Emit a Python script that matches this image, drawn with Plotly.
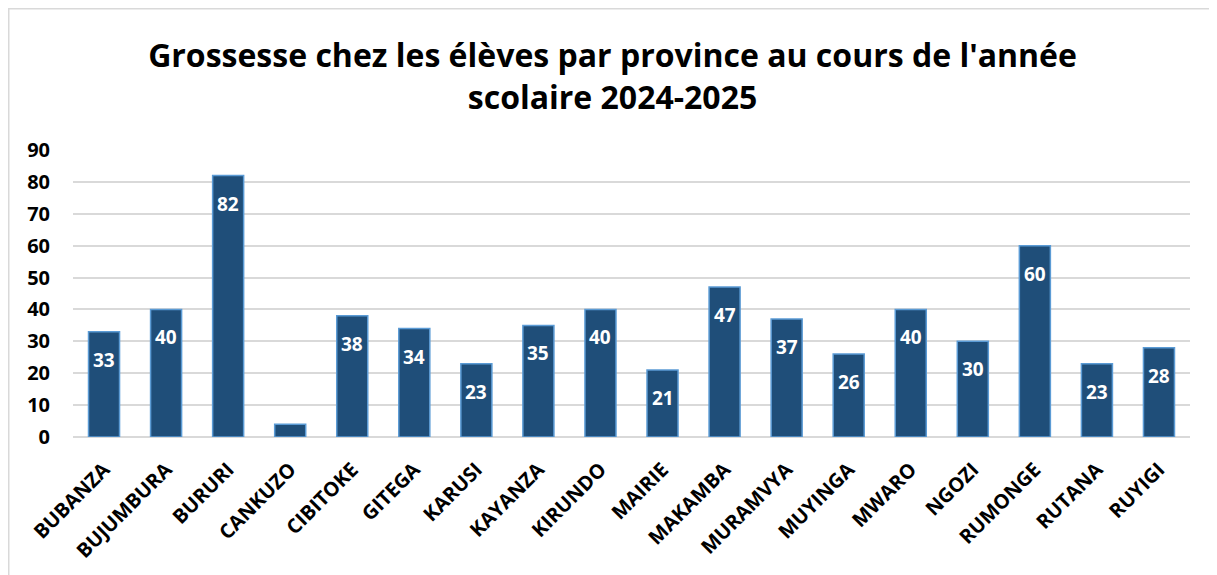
import plotly.graph_objects as go

provinces = ["BUBANZA", "BUJUMBURA", "BURURI", "CANKUZO", "CIBITOKE", "GITEGA", "KARUSI",
             "KAYANZA", "KIRUNDO", "MAIRIE", "MAKAMBA", "MURAMVYA", "MUYINGA", "MWARO",
             "NGOZI", "RUMONGE", "RUTANA", "RUYIGI"]
values = [33, 40, 82, 4, 38, 34, 23, 35, 40, 21, 47, 37, 26, 40, 30, 60, 23, 28]
y_ticks = [0, 10, 20, 30, 40, 50, 60, 70, 80, 90]

title_text = "Grossesse chez les élèves par province au cours de l'année<br>scolaire 2024-2025"

# page body has an 8px margin, so the figure is shifted by 8px
W, H = 1209, 567
L, R, T, B = 65, 27, 142, 138

fig = go.Figure()
fig.add_trace(go.Bar(
    x=provinces, y=values,
    marker=dict(color="#1F4E79", line=dict(color="#5B9BD5", width=1.5)),
    hoverinfo="x+y",
))

for p, v in zip(provinces, values):
    fig.add_annotation(
        x=p, y=v, text=str(v), showarrow=False, yshift=-28,
        font=dict(family="Open Sans", size=19, color="white", weight="bold"),
        xref="x", yref="y",
    )

pw = W - L - R
ph = H - T - B
fig.add_shape(type="rect", xref="paper", yref="paper",
              x0=(0.75 - L) / pw, x1=(W + 10 - L) / pw,
              y0=-(B + 10) / ph, y1=(H - B - 0.75) / ph,
              line=dict(color="#D9D9D9", width=1.5), fillcolor="rgba(0,0,0,0)", layer="below")

fig.update_layout(
    width=W, height=H,
    margin=dict(l=L, r=R, t=T, b=B),
    paper_bgcolor="white", plot_bgcolor="white",
    bargap=0.5,
    showlegend=False,
    title=dict(text=title_text, x=0.5, xanchor="center", yref="container",
               y=1 - 59 / H, yanchor="top",
               font=dict(family="Open Sans", size=32, color="black", weight="bold")),
    font=dict(family="Open Sans", color="black"),
)
fig.update_xaxes(
    tickangle=-45, tickfont=dict(family="Open Sans", size=20, color="black", weight="bold"),
    showgrid=False, showline=False, ticks="outside", ticklen=12, tickcolor="rgba(0,0,0,0)",
    automargin=False,
)
fig.update_yaxes(
    range=[0, 90], tickvals=y_ticks, showgrid=True, gridcolor="#D9D9D9", gridwidth=1.5,
    zeroline=True, zerolinecolor="#D9D9D9", zerolinewidth=1.5,
    tickfont=dict(family="Open Sans", size=20, color="black", weight="bold"),
    ticks="outside", ticklen=18, tickcolor="rgba(0,0,0,0)", automargin=False,
)

fig.write_html("out.html")
